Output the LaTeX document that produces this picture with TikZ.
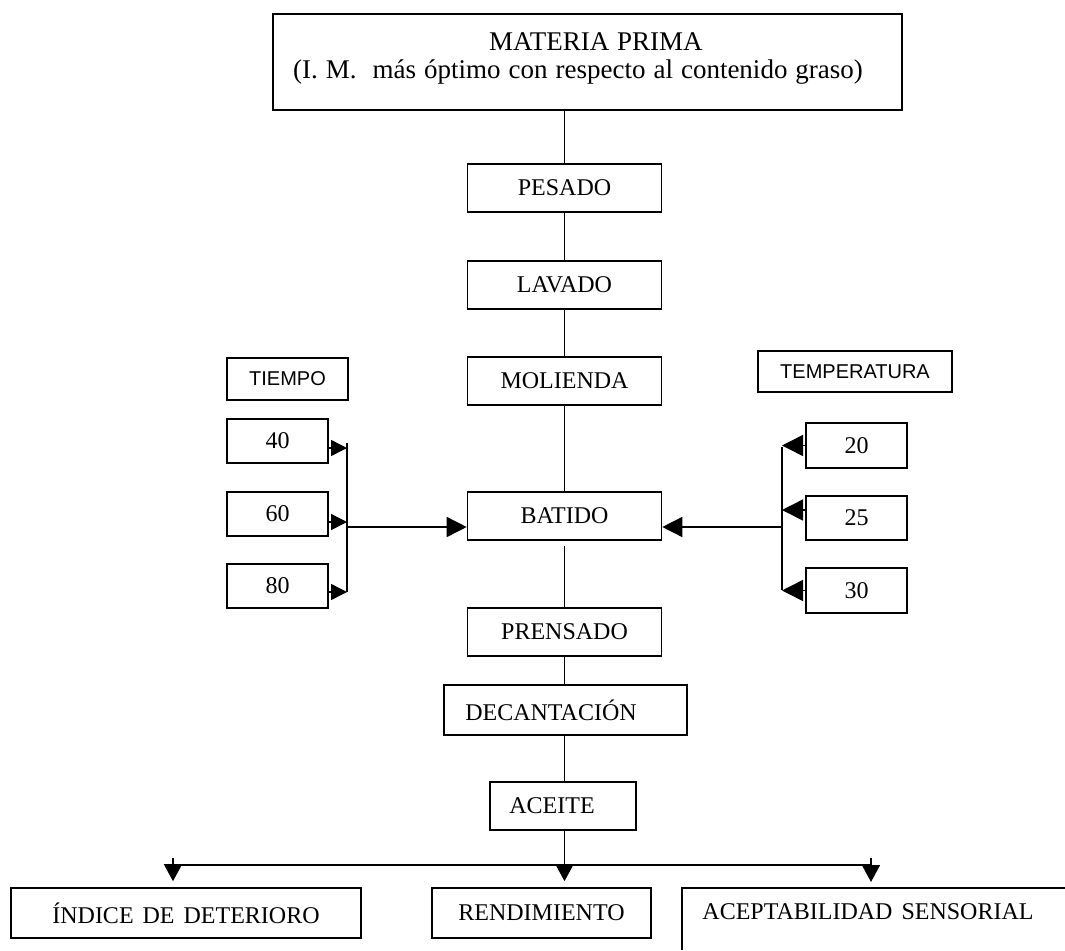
\documentclass[tikz,border=0pt]{standalone}
\usepackage{fontspec}
\setmainfont{Liberation Serif}
\newfontfamily\arialfont{Liberation Sans}
\usetikzlibrary{arrows.meta}
\newcommand{\matfont}{\fontsize{27}{28}\selectfont\spaceskip=8pt\relax}
\tikzset{
  box/.style={draw, line width=1.6pt, inner sep=0pt, font=\fontsize{24}{28}\selectfont},
  sbox/.style={draw, line width=1.6pt, inner sep=0pt, font=\arialfont\fontsize{20}{24}\selectfont},
  conn/.style={line width=1.5pt},
  tip/.style={line width=1.5pt, -{Triangle[length=20pt,width=20pt]}},
  rtip/.style={line width=1.5pt, -{Triangle[length=21pt,width=21pt]}},
  stip/.style={line width=1.5pt, -{Triangle[length=16pt,width=16pt]}},
  btip/.style={line width=1.5pt, -{Triangle[length=17pt,width=18pt]}},
}
\begin{document}
\begin{tikzpicture}[x=1pt,y=-1pt]
\useasboundingbox (0,0) rectangle (1065,950);
\fill[white] (0,0) rectangle (1065,950);

% main column
\node[box, minimum width=629pt, minimum height=96pt] (mat) at (587.5,62) {};
\node[font=\matfont, align=center, inner sep=0pt] (matt) at (578,59) {\kern36pt MATERIA PRIMA\\(I. M.\ \ más óptimo con respecto al contenido graso)};
\node[box, minimum width=194pt, minimum height=48pt] (pes) at (564.5,188) {PESADO};
\node[box, minimum width=194pt, minimum height=48pt] (lav) at (564.5,285) {LAVADO};
\node[box, minimum width=194pt, minimum height=48pt] (mol) at (564.5,381) {MOLIENDA};
\node[box, minimum width=194pt, minimum height=48pt] (bat) at (564.5,516) {BATIDO};
\node[box, minimum width=194pt, minimum height=48pt] (pren) at (564.5,632) {PRENSADO};
\node[box, minimum width=243pt, minimum height=50pt] (dec) at (565.5,710) {DECANTACIÓN\kern29pt};
\node[box, minimum width=146pt, minimum height=48pt] (ace) at (563,806) {ACEITE\kern22pt};

% bottom boxes
\node[box, minimum width=350pt, minimum height=50pt] (ind) at (186,913) {ÍNDICE\kern9pt DE\kern9pt DETERIORO};
\node[box, minimum width=219pt, minimum height=50pt] (ren) at (541.5,913) {RENDIMIENTO};
\coordinate (acTL) at (682,888);
\coordinate (acTR) at (1065,888);
\coordinate (acBL) at (682,950);
\draw[line width=1.6pt] (acTR) -- (acTL) -- (acBL);
\node[font=\fontsize{24}{28}\selectfont, inner sep=0pt] (acs) at (868,912) {ACEPTABILIDAD\kern9pt SENSORIAL};

% left side
\node[sbox, minimum width=121pt, minimum height=42pt] (tie) at (287.5,379) {TIEMPO};
\node[box, minimum width=101pt, minimum height=44pt] (t40) at (277.5,441) {40};
\node[box, minimum width=101pt, minimum height=44pt] (t60) at (277.5,514) {60};
\node[box, minimum width=101pt, minimum height=44pt] (t80) at (277.5,586) {80};
\coordinate (bl1) at (347,443);
\coordinate (bl2) at (347,592);
\coordinate (jl) at (347,527);

% right side
\node[sbox, minimum width=194pt, minimum height=41pt] (tem) at (855,371.5) {TEMPERATURA};
\node[box, minimum width=101pt, minimum height=45pt] (t20) at (856.5,445.5) {20};
\node[box, minimum width=101pt, minimum height=44pt] (t25) at (856.5,518) {25};
\node[box, minimum width=101pt, minimum height=45pt] (t30) at (856.5,590.5) {30};
\coordinate (br1) at (782,447);
\coordinate (br2) at (782,590);
\coordinate (jr) at (782,527);

% main connectors
\draw[conn] (pes.north |- mat.south) -- (pes.north);
\draw[conn] (pes.south) -- (lav.north);
\draw[conn] (lav.south) -- (mol.north);
\draw[conn] (mol.south) -- (bat.north);
\draw[conn] ([yshift=-5pt]bat.south) -- (pren.north);
\draw[conn] (pren.south) -- (pren.south |- dec.north);
\draw[conn] (pren.south |- dec.south) -- (pren.south |- ace.north);

% time bracket
\draw[conn] (bl1) -- (bl2);
\draw[stip] ([yshift=-7pt]t40.east) -- ([yshift=-7pt]t40.east -| bl1);
\draw[stip] ([yshift=-8pt]t60.east) -- ([yshift=-8pt]t60.east -| bl1);
\draw[stip] ([yshift=-6pt]t80.east) -- ([yshift=-6pt]t80.east -| bl1);
\draw[tip] (jl) -- (bat.west |- jl);

% temperature bracket
\draw[conn] (br1) -- (br2);
\draw[rtip] (t20.west) -- (t20.west -| br1);
\draw[rtip] ([yshift=8pt]t25.west) -- ([yshift=8pt]t25.west -| br1);
\draw[rtip] (t30.west) -- (t30.west -| br1);
\draw[tip] (jr) -- (bat.east |- jr);

% bottom distribution
\coordinate (hL) at (173,865);
\coordinate (hR) at (871,865);
\draw[conn] (hL) -- (hR);
\draw[btip, shorten >=6pt] ([yshift=7pt]hL) -- (hL |- ind.north);
\draw[btip, shorten >=6pt] (pren.south |- ace.south) -- (pren.south |- ren.north);
\draw[btip, shorten >=6pt] ([yshift=7pt]hR) -- (hR |- acTL);
\end{tikzpicture}
\end{document}
